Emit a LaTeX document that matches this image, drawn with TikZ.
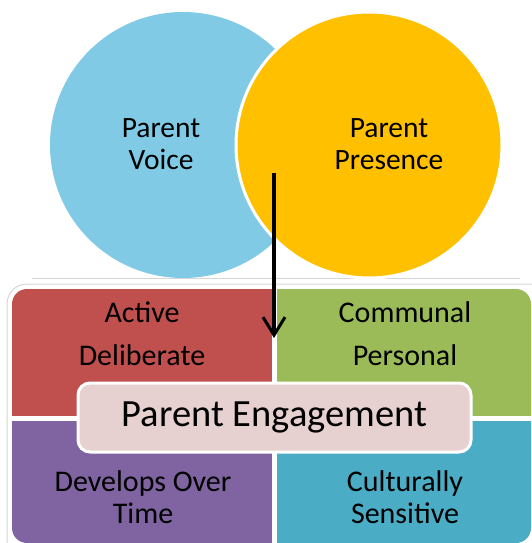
\documentclass[tikz,border=0pt]{standalone}
\usepackage{fontspec}
\setmainfont{Carlito}
\usetikzlibrary{arrows.meta}
\definecolor{cblue}{HTML}{80CAE5}
\definecolor{corange}{HTML}{FFC000}
\definecolor{cred}{HTML}{C0504D}
\definecolor{cgreen}{HTML}{9BBB59}
\definecolor{cpurple}{HTML}{8064A2}
\definecolor{caqua}{HTML}{4BACC6}
\definecolor{cpink}{HTML}{E7D0D0}
\definecolor{cframe}{HTML}{D6D6D6}
\tikzset{
  circ/.style={circle, minimum size=266pt, inner sep=0pt},
  quad/.style={rectangle, draw=none, inner sep=0pt},
  qtext/.style={align=center, font=\fontsize{30}{43}\selectfont, inner sep=0pt},
  qtextb/.style={align=center, font=\fontsize{30}{32}\selectfont, inner sep=0pt},
  ctext/.style={align=center, font=\fontsize{29.5}{32}\selectfont, inner sep=0pt},
  centerbox/.style={rectangle, rounded corners=12pt, fill=cpink, draw=white, line width=3pt,
    minimum width=393pt, minimum height=69pt, font=\fontsize{38.5}{40}\selectfont, inner sep=0pt},
  arr/.style={line width=3.4pt, -{Straight Barb[length=18pt,width=22pt,line width=3pt]}},
}
\begin{document}
\begin{tikzpicture}[x=1pt,y=-1pt]
\useasboundingbox (0,0) rectangle (531,543);
% frame
\draw[cframe, line width=1pt] (32,278) -- (520,278);
\draw[cframe, line width=1pt, rounded corners=20pt] (7,560) -- (7,284) -- (545,284);
% circles
\node[circ, fill=cblue] (voice) at (183,145) {};
\node[circ, fill=corange, draw=white, line width=3pt] (presence) at (369,145) {};
\node[ctext] (voicet) at (161,144) {Parent\\Voice};
\node[ctext] (presencet) at (389,144) {Parent\\Presence};
% quadrants
\begin{scope}
\clip[rounded corners=15pt] (12,289) rectangle (531,543);
\node[quad, fill=cred, minimum width=260pt, minimum height=127pt, anchor=north west] (qa) at (12,289) {};
\node[quad, fill=cgreen, minimum width=260pt, minimum height=127pt, anchor=north west] (qb) at (277,289) {};
\node[quad, fill=cpurple, minimum width=260pt, minimum height=130pt, anchor=north west] (qc) at (12,421) {};
\node[quad, fill=caqua, minimum width=260pt, minimum height=130pt, anchor=north west] (qd) at (277,421) {};
\end{scope}
\node[qtext] (ta) at (142,334) {Active\\Deliberate};
\node[qtext] (tb) at (405,334) {Communal\\Personal};
\node[qtextb] (tc) at (143,497) {Develops Over\\Time};
\node[qtextb] (td) at (405,497) {Culturally\\Sensitive};
\node[centerbox] (eng) at (274.5,417.5) {Parent Engagement};
% arrow
\coordinate (arrS) at (274,173);
\coordinate (arrE) at (274,338);
\draw[arr] (arrS) -- (arrE);
\end{tikzpicture}
\end{document}
